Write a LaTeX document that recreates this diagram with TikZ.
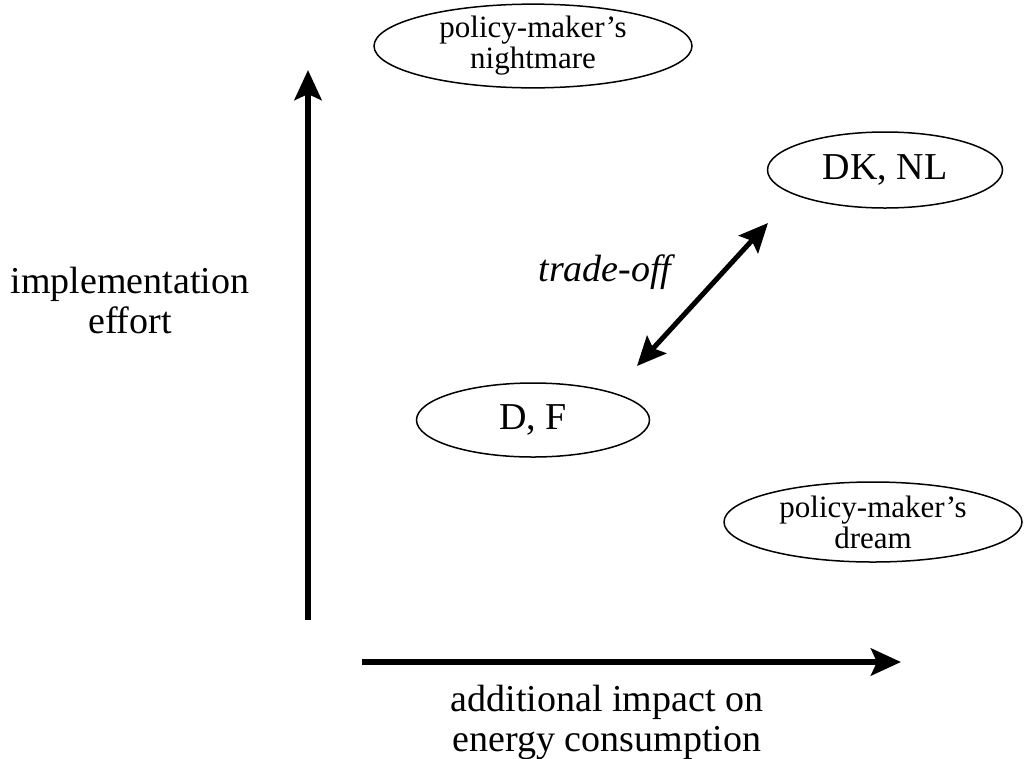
\documentclass[tikz,border=0pt]{standalone}
\usepackage{fontspec}
\setmainfont{Liberation Serif}
\usetikzlibrary{shapes.geometric,arrows.meta}
\begin{document}
\begin{tikzpicture}[x=1pt,y=-1pt,
  oval/.style={ellipse,draw,line width=1.5pt,inner sep=0pt,align=center},
  bigtext/.style={font=\fontsize{38}{40}\selectfont,align=center,inner sep=0pt},
  smalltext/.style={font=\fontsize{31}{31}\selectfont},
  axis/.style={line width=6pt,-{Stealth[length=30pt,width=27pt,inset=6pt]}},
  dbl/.style={line width=5pt,{Stealth[length=29pt,width=26pt,inset=5pt]}-{Stealth[length=29pt,width=26pt,inset=5pt]}}]
\useasboundingbox (0,0) rectangle (1024,758);
% axes
\coordinate (ys) at (308,620);
\coordinate (ye) at (308,70);
\coordinate (xs) at (362,662);
\coordinate (xe) at (901,662);
\draw[axis] (ys) -- (ye);
\draw[axis] (xs) -- (xe);
% ellipses
\node[oval,smalltext,minimum width=318pt,minimum height=76pt] (night) at (533,46) {policy-maker's\\nightmare};
\node[oval,bigtext,minimum width=235pt,minimum height=76pt] (dknl) at (885,170) {DK, NL};
\node[oval,bigtext,minimum width=233pt,minimum height=74pt] (df) at (533,420) {D, F};
\node[oval,smalltext,minimum width=298pt,minimum height=80pt] (dream) at (873,522) {policy-maker's\\dream};
% trade-off
\coordinate (ta) at (637,366);
\coordinate (tb) at (768,223);
\draw[dbl] (ta) -- (tb);
\node[bigtext,font=\fontsize{38}{40}\selectfont\itshape] (trade) at (605,272) {trade-off};
% labels
\node[bigtext] (ylab) at (130,300) {implementation\\effort};
\node[bigtext] (xlab) at (607,722) {additional impact on\\energy consumption};
\end{tikzpicture}
\end{document}
